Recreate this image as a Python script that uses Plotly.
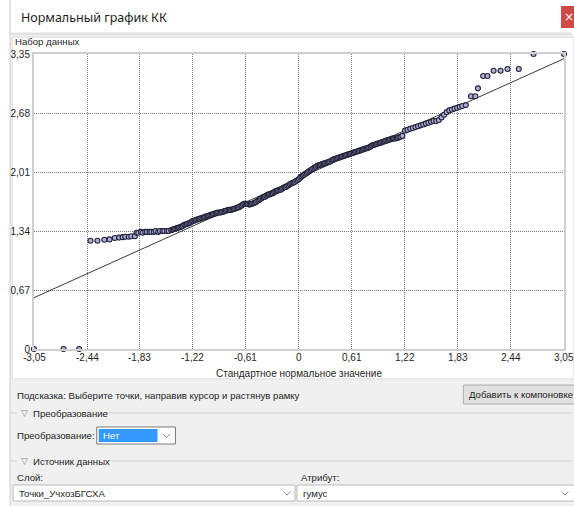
import plotly.graph_objects as go

# ---- data: standard normal quantiles vs. sorted humus values ----
std_normal = [
    -3.05, -2.71, -2.53,
    -2.40, -2.32, -2.24, -2.18, -2.12, -2.07, -2.03, -2.00, -1.96, -1.93, -1.89,
    -1.87, -1.85, -1.82, -1.80, -1.77, -1.75, -1.72, -1.70, -1.67, -1.65, -1.62,
    -1.60, -1.57, -1.55, -1.52, -1.50,
    -1.470, -1.455, -1.440, -1.425, -1.410, -1.395, -1.380, -1.365, -1.350, -1.335,
    -1.320, -1.305, -1.290, -1.275, -1.260, -1.245, -1.230, -1.215, -1.200, -1.185,
    -1.170, -1.155, -1.140, -1.125, -1.110, -1.095, -1.080, -1.065, -1.050, -1.035,
    -1.020, -1.005, -0.990, -0.975, -0.960, -0.945, -0.930, -0.915, -0.900, -0.885,
    -0.870, -0.855, -0.840, -0.825, -0.810, -0.795, -0.780, -0.765, -0.750, -0.735,
    -0.720, -0.705, -0.690, -0.675, -0.660, -0.645, -0.630, -0.615, -0.600, -0.585,
    -0.570, -0.555, -0.540, -0.525, -0.510, -0.495, -0.480, -0.465, -0.450, -0.435,
    -0.420, -0.405, -0.390, -0.375, -0.360, -0.345, -0.330, -0.315, -0.300, -0.285,
    -0.270, -0.255, -0.240, -0.225, -0.210, -0.195, -0.180, -0.165, -0.150, -0.135,
    -0.120, -0.105, -0.090, -0.075, -0.060, -0.045, -0.030, -0.015, 0.000, 0.015,
    0.030, 0.045, 0.060, 0.075, 0.090, 0.105, 0.120, 0.135, 0.150, 0.165,
    0.180, 0.195, 0.210, 0.225, 0.240, 0.255, 0.270, 0.285, 0.300, 0.315,
    0.330, 0.345, 0.360, 0.375, 0.390, 0.405, 0.420, 0.435, 0.450, 0.465,
    0.480, 0.495, 0.510, 0.525, 0.540, 0.555, 0.570, 0.585, 0.600, 0.615,
    0.630, 0.645, 0.660, 0.675, 0.690, 0.705, 0.720, 0.735, 0.750, 0.765,
    0.780, 0.795, 0.810, 0.825, 0.840, 0.855, 0.870, 0.885, 0.900, 0.915,
    0.930, 0.945, 0.960, 0.975, 0.990, 1.005, 1.020, 1.035, 1.050, 1.065,
    1.080, 1.095, 1.110, 1.125, 1.140, 1.155, 1.170, 1.190,
    1.22, 1.25, 1.28, 1.31, 1.34, 1.37, 1.40, 1.43, 1.46, 1.49, 1.52, 1.55, 1.58,
    1.61, 1.64, 1.67, 1.70, 1.73, 1.76, 1.79, 1.82, 1.85, 1.88, 1.92,
    1.98, 2.03, 2.06, 2.12, 2.17, 2.24, 2.32, 2.40, 2.53, 2.70, 3.05,
]
humus = [
    0.00, 0.00, 0.00,
    1.23, 1.23, 1.24, 1.245, 1.26, 1.265, 1.27, 1.275, 1.275, 1.28, 1.28,
    1.32, 1.32, 1.33, 1.32, 1.33, 1.33, 1.33, 1.33, 1.33, 1.34, 1.33,
    1.34, 1.34, 1.34, 1.34, 1.34,
    1.350, 1.357, 1.360, 1.366, 1.370, 1.376, 1.380, 1.386, 1.390, 1.400,
    1.410, 1.414, 1.420, 1.426, 1.430, 1.440, 1.450, 1.454, 1.460, 1.466,
    1.470, 1.476, 1.480, 1.486, 1.490, 1.496, 1.500, 1.506, 1.510, 1.516,
    1.520, 1.526, 1.530, 1.536, 1.540, 1.546, 1.550, 1.550, 1.550, 1.556,
    1.560, 1.566, 1.570, 1.576, 1.580, 1.580, 1.580, 1.586, 1.590, 1.596,
    1.600, 1.606, 1.610, 1.620, 1.630, 1.640, 1.650, 1.650, 1.650, 1.645,
    1.640, 1.645, 1.650, 1.656, 1.660, 1.670, 1.680, 1.690, 1.700, 1.710,
    1.720, 1.726, 1.730, 1.740, 1.750, 1.756, 1.760, 1.766, 1.770, 1.780,
    1.790, 1.796, 1.800, 1.806, 1.810, 1.820, 1.830, 1.836, 1.840, 1.850,
    1.860, 1.870, 1.880, 1.886, 1.890, 1.900, 1.910, 1.920, 1.930, 1.946,
    1.960, 1.970, 1.980, 1.990, 2.000, 2.010, 2.020, 2.030, 2.040, 2.050,
    2.060, 2.070, 2.080, 2.086, 2.090, 2.096, 2.100, 2.106, 2.110, 2.116,
    2.120, 2.126, 2.130, 2.140, 2.150, 2.156, 2.160, 2.166, 2.170, 2.176,
    2.180, 2.186, 2.190, 2.196, 2.200, 2.206, 2.210, 2.216, 2.220, 2.226,
    2.230, 2.236, 2.240, 2.246, 2.250, 2.256, 2.260, 2.266, 2.270, 2.276,
    2.280, 2.286, 2.290, 2.300, 2.310, 2.316, 2.320, 2.326, 2.330, 2.336,
    2.340, 2.346, 2.350, 2.356, 2.360, 2.366, 2.370, 2.376, 2.380, 2.386,
    2.390, 2.390, 2.390, 2.396, 2.400, 2.406, 2.410, 2.420,
    2.48, 2.49, 2.50, 2.51, 2.52, 2.53, 2.54, 2.55, 2.56, 2.57, 2.58, 2.59, 2.59,
    2.60, 2.63, 2.66, 2.69, 2.71, 2.72, 2.73, 2.74, 2.75, 2.76, 2.77,
    2.87, 2.87, 2.96, 3.10, 3.10, 3.16, 3.16, 3.18, 3.18, 3.35, 3.35,
]

# reference normal line (mean and standard deviation of the sample)
fit_mean = 1.94
fit_sd = 0.445

x_ticks = [-3.05, -2.44, -1.83, -1.22, -0.61, 0, 0.61, 1.22, 1.83, 2.44, 3.05]
x_tick_text = ["-3,05", "-2,44", "-1,83", "-1,22", "-0,61", "0", "0,61", "1,22", "1,83", "2,44", "3,05"]
y_ticks = [0, 0.67, 1.34, 2.01, 2.68, 3.35]
y_tick_text = ["0", "0,67", "1,34", "2,01", "2,68", "3,35"]

# ---- page geometry (pixels) ----
W, H = 574, 506
ML, MR, MT, MB = 34, 8, 54, 157
PW, PH = W - ML - MR, H - MT - MB


def fx(px):
    return (px - ML) / PW


def fy(py):
    return (H - MB - py) / PH


UI_FONT = "Liberation Sans"
UI_SIZE = 9.6
TXT = "#1e1e1e"

fig = go.Figure()

x_lo, x_hi = x_ticks[0], x_ticks[-1]
fig.add_trace(go.Scatter(
    x=[x_lo, x_hi], y=[fit_mean + fit_sd * x_lo, fit_mean + fit_sd * x_hi],
    mode="lines", line=dict(color="#3a3a3a", width=1), hoverinfo="skip",
    cliponaxis=False, showlegend=False,
))
fig.add_trace(go.Scatter(
    x=std_normal, y=humus, mode="markers",
    marker=dict(size=5, color="#aeaed8", line=dict(color="#23233a", width=1.1)),
    cliponaxis=False, showlegend=False,
))

shapes = []
ann = []


def rect(x0, y0, x1, y1, fill, line=None, lw=1, layer="below"):
    shapes.append(dict(type="rect", xref="paper", yref="paper",
                       x0=fx(x0), x1=fx(x1), y0=fy(y1), y1=fy(y0),
                       fillcolor=fill, line=dict(color=line or fill, width=lw if line else 0),
                       layer=layer))


def hline(x0, x1, y, color, lw=1, layer="below"):
    shapes.append(dict(type="line", xref="paper", yref="paper",
                       x0=fx(x0), x1=fx(x1), y0=fy(y), y1=fy(y),
                       line=dict(color=color, width=lw), layer=layer))


def vline(x, y0, y1, color, lw=1, layer="below"):
    shapes.append(dict(type="line", xref="paper", yref="paper",
                       x0=fx(x), x1=fx(x), y0=fy(y0), y1=fy(y1),
                       line=dict(color=color, width=lw), layer=layer))


def chevron(cx, cy, color="#8a8a8a"):
    p = "M {} {} L {} {} L {} {}".format(fx(cx - 3.5), fy(cy - 1.5), fx(cx), fy(cy + 2),
                                        fx(cx + 3.5), fy(cy - 1.5))
    shapes.append(dict(type="path", xref="paper", yref="paper", path=p,
                       line=dict(color=color, width=1), layer="above"))


def text(x, y, s, size=UI_SIZE, color=TXT, family=UI_FONT, anchor="left"):
    ann.append(dict(x=fx(x), y=fy(y), xref="paper", yref="paper", text=s, showarrow=False,
                    xanchor=anchor, yanchor="middle",
                    font=dict(family=family, size=size, color=color)))


# x tick labels placed on the x scale, just below the axis
for v, s in zip(x_ticks, x_tick_text):
    ann.append(dict(x=v, y=fy(357), xref="x", yref="paper", text=s, showarrow=False,
                    xanchor="center", yanchor="middle",
                    font=dict(family=UI_FONT, size=10, color=TXT)))

# window frame, title bar and chart panel
vline(10, 0, 506, "#c9c9c9")
hline(10, 574, 34, "#e2e2e2", lw=3)
rect(12, 37, 576, 379, "#ffffff", line="#d2d2d2")
rect(11, 380, 576, 508, "#f0f0f0")
rect(563, 6, 578, 28, "#cf4a44", layer="above")
text(571, 17, "×", size=12, color="#ffffff", family="DejaVu Sans", anchor="center")
text(19, 18, "Нормальный график КК", size=12.5, family="Noto Sans")
text(13, 42, "Набор данных")
text(300, 373, "Стандартное нормальное значение", size=10, anchor="center")

# controls below the chart
text(15, 395, "Подсказка: Выберите точки, направив курсор и растянув рамку")
rect(465, 385, 578, 404, "#e1e1e1", line="#adadad")
text(469, 394.5, "Добавить к компоновке")

hline(10, 17, 413, "#d0d0d0")
text(19, 412.5, "▽", size=9, color="#8a8a8a", family="DejaVu Sans")
text(31, 413, "Преобразование")
hline(106, 574, 413, "#d0d0d0")

text(15, 435, "Преобразование:")
rect(97, 427, 176, 444, "#ffffff", line="#7a7a7a")
rect(99, 429, 158, 442, "#3399ff", layer="above")
text(101, 435.5, "Нет", color="#ffffff")
chevron(167, 435.5)

hline(10, 17, 461, "#d0d0d0")
text(19, 460.5, "▽", size=9, color="#8a8a8a", family="DejaVu Sans")
text(31, 461, "Источник данных")
hline(110, 574, 461, "#d0d0d0")

text(15, 477, "Слой:")
text(300, 477, "Атрибут:")
rect(13, 485, 296, 501, "#ffffff", line="#b9b9b9")
text(17, 493, "Точки_УчхозБГСХА")
chevron(288, 493)
rect(298, 485, 578, 501, "#ffffff", line="#b9b9b9")
text(302, 493, "гумус")
chevron(567, 493)

axis_common = dict(
    showgrid=True, gridcolor="#787878", gridwidth=1, griddash="1px,1px",
    zeroline=False, showline=True, mirror=True, linecolor="#cfcfcf", linewidth=2,
    ticks="", tickfont=dict(family=UI_FONT, size=10, color=TXT), fixedrange=True,
)

fig.update_layout(
    width=W, height=H, autosize=False,
    margin=dict(l=ML, r=MR, t=MT, b=MB, pad=0),
    paper_bgcolor="#ffffff", plot_bgcolor="rgba(0,0,0,0)",
    xaxis=dict(range=[x_lo, x_hi + 0.0005], tickmode="array", tickvals=x_ticks,
               ticktext=x_tick_text, showticklabels=False, **axis_common),
    yaxis=dict(range=[y_ticks[0], y_ticks[-1] + 0.0003], tickmode="array", tickvals=y_ticks,
               ticktext=y_tick_text, ticklabelstandoff=0, **axis_common),
    shapes=shapes, annotations=ann, showlegend=False,
)

fig.write_html("out.html", config={"displayModeBar": False})
